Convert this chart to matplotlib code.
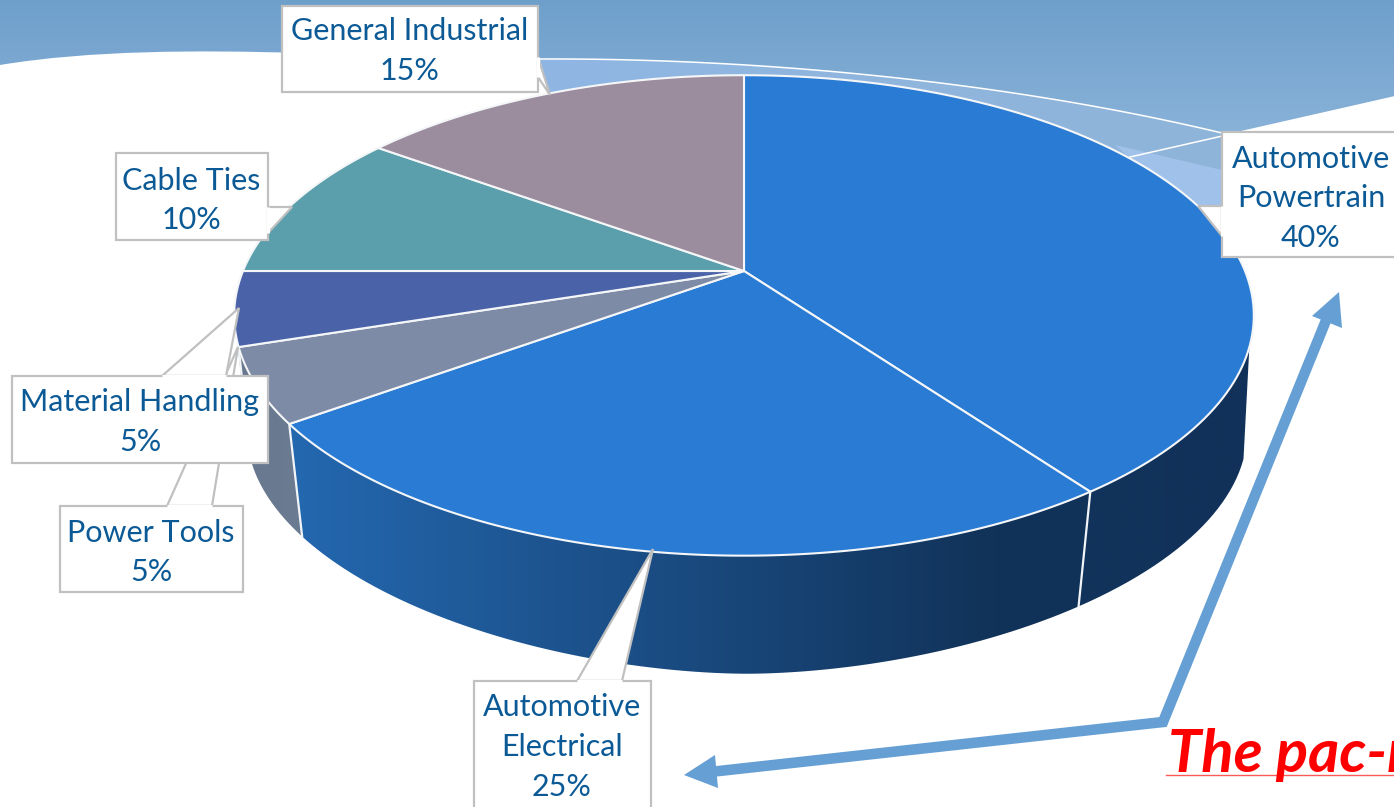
import numpy as np
import matplotlib
matplotlib.use("Agg")
import matplotlib.pyplot as plt
from matplotlib.colors import LinearSegmentedColormap
from matplotlib.patches import Polygon, PathPatch
from matplotlib.path import Path

# ----------- DATA -----------
categories = ["Automotive\nPowertrain", "Automotive\nElectrical", "Power Tools",
              "Material Handling", "Cable Ties", "General Industrial"]
shares = [40, 25, 5, 5, 10, 15]

top_colors = ["#2a7bd4", "#2a7bd4", "#7d8ba6", "#4a62a8", "#5a9fab", "#9b8c9e"]
wall_left = ["#12335a", "#2468b0", "#68788e", "#68788e"]
wall_right = ["#11315a", "#113258", "#6b7b92", "#6b7b92"]

# callout boxes: x0, y0, x1, y1, pointer
boxes = {
    "Power Tools": ((60, 506, 243, 592), [(167, 506), (238, 347), (212, 506)]),
    "Material Handling": ((12, 376, 268, 463), [(162, 376), (239, 308), (226, 376)]),
    "Cable Ties": ((116, 153, 268, 240), [(268, 207), (292, 207), (268, 233)]),
    "General Industrial": ((282, 6, 538, 92), [(538, 57), (550, 95), (538, 77)]),
    "Automotive\nPowertrain": ((1222, 132, 1400, 257), [(1222, 206), (1198, 206), (1222, 236)]),
    "Automotive\nElectrical": ((474, 681, 651, 810), [(577, 681), (653, 549), (622, 681)]),
}
text_x = {"Power Tools": 151, "Material Handling": 140, "Cable Ties": 191,
          "General Industrial": 410, "Automotive\nPowertrain": 1311, "Automotive\nElectrical": 562}
text_y = {"Power Tools": 532.5, "Material Handling": 402.5, "Cable Ties": 180.5,
          "General Industrial": 31.5, "Automotive\nPowertrain": 158.5, "Automotive\nElectrical": 707.5}

W, H = 1394, 807
fig = plt.figure(figsize=(W / 100, H / 100), dpi=100, facecolor="white")
ax = fig.add_axes([0, 0, 1, 1])
ax.axis("off")


# ----------- PIE GEOMETRY -----------
# perspective view of a disc, angle in degrees clockwise from the back
def top_rim(theta):
    t = np.radians(theta)
    d = 1 + 0.185 * np.cos(t)
    return 744 + 501 * np.sin(t) / d, 271 - 232 * np.cos(t) / d


def bottom_rim(theta):
    t = np.radians(theta)
    d = 1 + 0.22 * np.cos(t)
    s = np.sin(t)
    return 747 + 489 * np.sign(s) * np.abs(s) ** 1.1 / d, 384 - 226 * np.cos(t) / d


def gradient_fill(patch_path, extent, stops, zorder, horizontal=True):
    cmap = LinearSegmentedColormap.from_list("g", stops)
    ramp = np.linspace(0, 1, 256)
    ramp = ramp[None, :] if horizontal else ramp[:, None]
    im = ax.imshow(ramp, extent=extent, cmap=cmap, aspect="auto", zorder=zorder, origin="upper")
    patch = PathPatch(patch_path, transform=ax.transData, fc="none", ec="none")
    ax.add_patch(patch)
    im.set_clip_path(patch)


# ----------- BACKGROUND SWOOSH -----------
band = Path(
    [(0, 0), (1394, 0), (1394, 97), (1222, 136), (1222, 133), (1000, 80), (750, 58), (540, 59),
     (450, 55), (380, 52), (300, 53), (200, 50), (90, 50), (0, 65), (0, 0)],
    [Path.MOVETO, Path.LINETO, Path.LINETO, Path.LINETO, Path.LINETO, Path.CURVE4, Path.CURVE4, Path.CURVE4,
     Path.CURVE4, Path.CURVE4, Path.CURVE4, Path.CURVE4, Path.CURVE4, Path.CURVE4, Path.CLOSEPOLY],
)
gradient_fill(band, (0, W, 170, 0), ["#6e9fcb", "#90b7dc"], 1, horizontal=False)

lower = Path(
    [(540, 59), (750, 58), (1000, 80), (1222, 133), (1222, 210), (1190, 210), (1000, 120), (550, 100), (540, 59)],
    [Path.MOVETO, Path.CURVE4, Path.CURVE4, Path.CURVE4, Path.LINETO, Path.LINETO, Path.LINETO, Path.LINETO,
     Path.CLOSEPOLY],
)
gradient_fill(lower, (540, 1222, 170, 50), ["#90b7e3", "#8fb4d9"], 1.5)
ax.add_patch(Polygon([(1115, 145), (1222, 170), (1222, 210), (1190, 210)], fc="#a0c2ea", ec="none", zorder=1.6))

line_t = np.linspace(0, 1, 80)
line_x = (1 - line_t) ** 3 * 540 + 3 * (1 - line_t) ** 2 * line_t * 750 + 3 * (1 - line_t) * line_t ** 2 * 1000 + line_t ** 3 * 1222
line_y = (1 - line_t) ** 3 * 59 + 3 * (1 - line_t) ** 2 * line_t * 58 + 3 * (1 - line_t) * line_t ** 2 * 80 + line_t ** 3 * 133
ax.plot(line_x, line_y, color="white", lw=1.1, zorder=1.8)
ax.plot([1130, 1394], [157, 97], color="white", lw=1.1, zorder=1.8)

# ----------- PIE -----------
edges = np.concatenate([[0], np.cumsum(shares)]) * 3.6
silhouette = (108, 259.3)

# side walls, front slices only
for i in range(4):
    start = max(edges[i], silhouette[0]) if i == 0 else edges[i]
    end = min(edges[i + 1], silhouette[1])
    th = np.linspace(start, end, 80)
    xt, yt = top_rim(th)
    xb, yb = bottom_rim(th)
    verts = np.column_stack([np.r_[xt, xb[::-1]], np.r_[yt, yb[::-1]]])
    wall = Path(np.vstack([verts, verts[0]]))
    ext = (verts[:, 0].min(), verts[:, 0].max(), verts[:, 1].max(), verts[:, 1].min())
    if i == 1:
        # the dark end of the ramp is reached before the slice ends
        stops = [(0, wall_left[1]), (0.89, wall_right[1]), (1, wall_right[1])]
    else:
        stops = [wall_left[i], wall_right[i]]
    gradient_fill(wall, ext, stops, 2)
    if end == edges[i + 1]:
        x0, y0 = top_rim(end)
        x1, y1 = bottom_rim(end)
        ax.plot([x0, x1], [y0, y1], color="#f2f5f8", lw=1.6, zorder=3)

# top face
for i, share in enumerate(shares):
    th = np.linspace(edges[i], edges[i + 1], 120)
    xt, yt = top_rim(th)
    ax.add_patch(Polygon(np.column_stack([np.r_[744, xt], np.r_[271, yt]]), closed=True,
                         fc=top_colors[i], ec="#f4f6f8", lw=1.5, joinstyle="round", zorder=4))

# ----------- CALLOUTS -----------
order = ["Power Tools", "Material Handling", "Cable Ties", "General Industrial",
         "Automotive\nPowertrain", "Automotive\nElectrical"]
for z, name in enumerate(order):
    (x0, y0, x1, y1), pointer = boxes[name]
    zz = 5 + z * 0.1
    ax.add_patch(Polygon(pointer, closed=True, fc="white", ec="#c0c0c0", lw=1.6, zorder=zz))
    ax.add_patch(Polygon([(x0, y0), (x1, y0), (x1, y1), (x0, y1)], closed=True, fc="white",
                         ec="#c0c0c0", lw=1.6, zorder=zz))
    # hide the pointer's base line
    (bx0, by0), (bx1, by1) = pointer[0], pointer[2]
    ax.plot([bx0, bx1], [by0, by1], color="white", lw=2.2, zorder=zz, solid_capstyle="butt")
    share = shares[categories.index(name)]
    lines = name.split("\n") + [f"{share}%"]
    for j, line in enumerate(lines):
        ax.text(text_x[name], text_y[name] + j * 39.7, line, ha="center", va="center",
                fontsize=22, family="Lato", color="#0b5a96", zorder=6)

# ----------- ARROWS -----------
arrow_color = "#659fd3"
ax.plot([710, 1163, 1327], [772, 722, 318], color=arrow_color, lw=7.6, solid_joinstyle="miter", zorder=7)
ax.add_patch(Polygon([(684, 775), (715, 755), (718, 788)], fc=arrow_color, ec="none", zorder=7))
ax.add_patch(Polygon([(1339, 292), (1312, 316), (1342, 328)], fc=arrow_color, ec="none", zorder=7))

# ----------- RED TEXT -----------
ax.text(1168, 772, "The pac-r", fontsize=43, family="Lato", fontweight="bold", fontstyle="italic",
        color="#ff0000", ha="left", va="baseline", zorder=8)
ax.plot([1166, 1394], [775, 775], color="#ff5a5a", lw=1.0, zorder=7.5)

ax.set_xlim(0, W)
ax.set_ylim(H, 0)
fig.savefig("out.png", dpi=100, facecolor="white")
